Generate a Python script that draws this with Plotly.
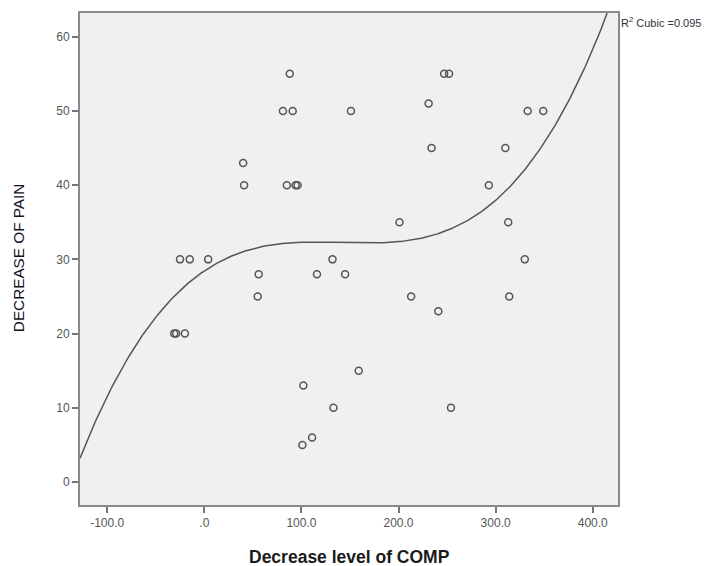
import numpy as np
import plotly.graph_objects as go

# Data
comp_decrease = [88, 247, 252, 81, 91, 151, 231, 333, 349, 40, 234, 310, 41, 85, 94, 96,
                 293, 201, 313, -25, -15, 4, 132, 330, 56, 116, 145, 55, 213, 314, 241,
                 -31, -29, -20, 159, 102, 133, 254, 111, 101]
pain_decrease = [55, 55, 55, 50, 50, 50, 51, 50, 50, 43, 45, 45, 40, 40, 40, 40,
                 40, 35, 35, 30, 30, 30, 30, 30, 28, 28, 28, 25, 25, 25, 23,
                 20, 20, 20, 15, 13, 10, 10, 6, 5]

x_tick_vals = [-100, 0, 100, 200, 300, 400]
x_tick_text = ["-100.0", ".0", "100.0", "200.0", "300.0", "400.0"]
y_tick_vals = [0, 10, 20, 30, 40, 50, 60]
r2_label = "R<sup>2</sup> Cubic =0.095"

x_range = [-128, 426]
y_range = [-3.1, 63.2]

# Cubic fit line (as in the SPSS fit)
coef = np.polyfit(comp_decrease, pain_decrease, 3)
fx = np.linspace(x_range[0], x_range[1], 400)
fy = np.polyval(coef, fx)

fig = go.Figure()
fig.add_trace(go.Scatter(
    x=fx, y=fy, mode="lines",
    line=dict(color="#555555", width=1.5),
    hoverinfo="skip", showlegend=False,
))
fig.add_trace(go.Scatter(
    x=comp_decrease, y=pain_decrease, mode="markers",
    marker=dict(symbol="circle-open", size=7, color="#555555",
                line=dict(width=1.5, color="#555555")),
    showlegend=False,
))

axis_common = dict(
    showline=True, mirror=True, linecolor="#8a8a8a", linewidth=2,
    ticks="outside", ticklen=6, tickwidth=1.5, tickcolor="#777777",
    showgrid=False, zeroline=False,
    tickfont=dict(family="Liberation Sans, Arial", size=12, color="#555555"),
)

fig.update_layout(
    width=705, height=566,
    margin=dict(l=80, r=87, t=13, b=61),
    paper_bgcolor="white",
    plot_bgcolor="#f0f0f0",
    xaxis=dict(range=x_range, tickvals=x_tick_vals, ticktext=x_tick_text, **axis_common),
    yaxis=dict(range=y_range, tickvals=y_tick_vals, **axis_common),
    annotations=[
        dict(text="<b>Decrease level of COMP</b>", xref="paper", yref="paper",
             x=0.5, y=-0.106, xanchor="center", yanchor="middle", showarrow=False,
             font=dict(family="Liberation Sans, Arial", size=17.5, color="#1a1a1a")),
        dict(text="DECREASE OF PAIN", xref="paper", yref="paper",
             x=-0.115, y=0.502, xanchor="center", yanchor="middle", showarrow=False,
             textangle=-90,
             font=dict(family="Liberation Sans, Arial", size=15.3, color="#111122")),
        dict(text=r2_label, xref="paper", yref="paper",
             x=1.002, y=0.982, xanchor="left", yanchor="middle", showarrow=False,
             font=dict(family="Liberation Sans, Arial", size=11, color="#333333")),
    ],
)

fig.write_html("out.html")
